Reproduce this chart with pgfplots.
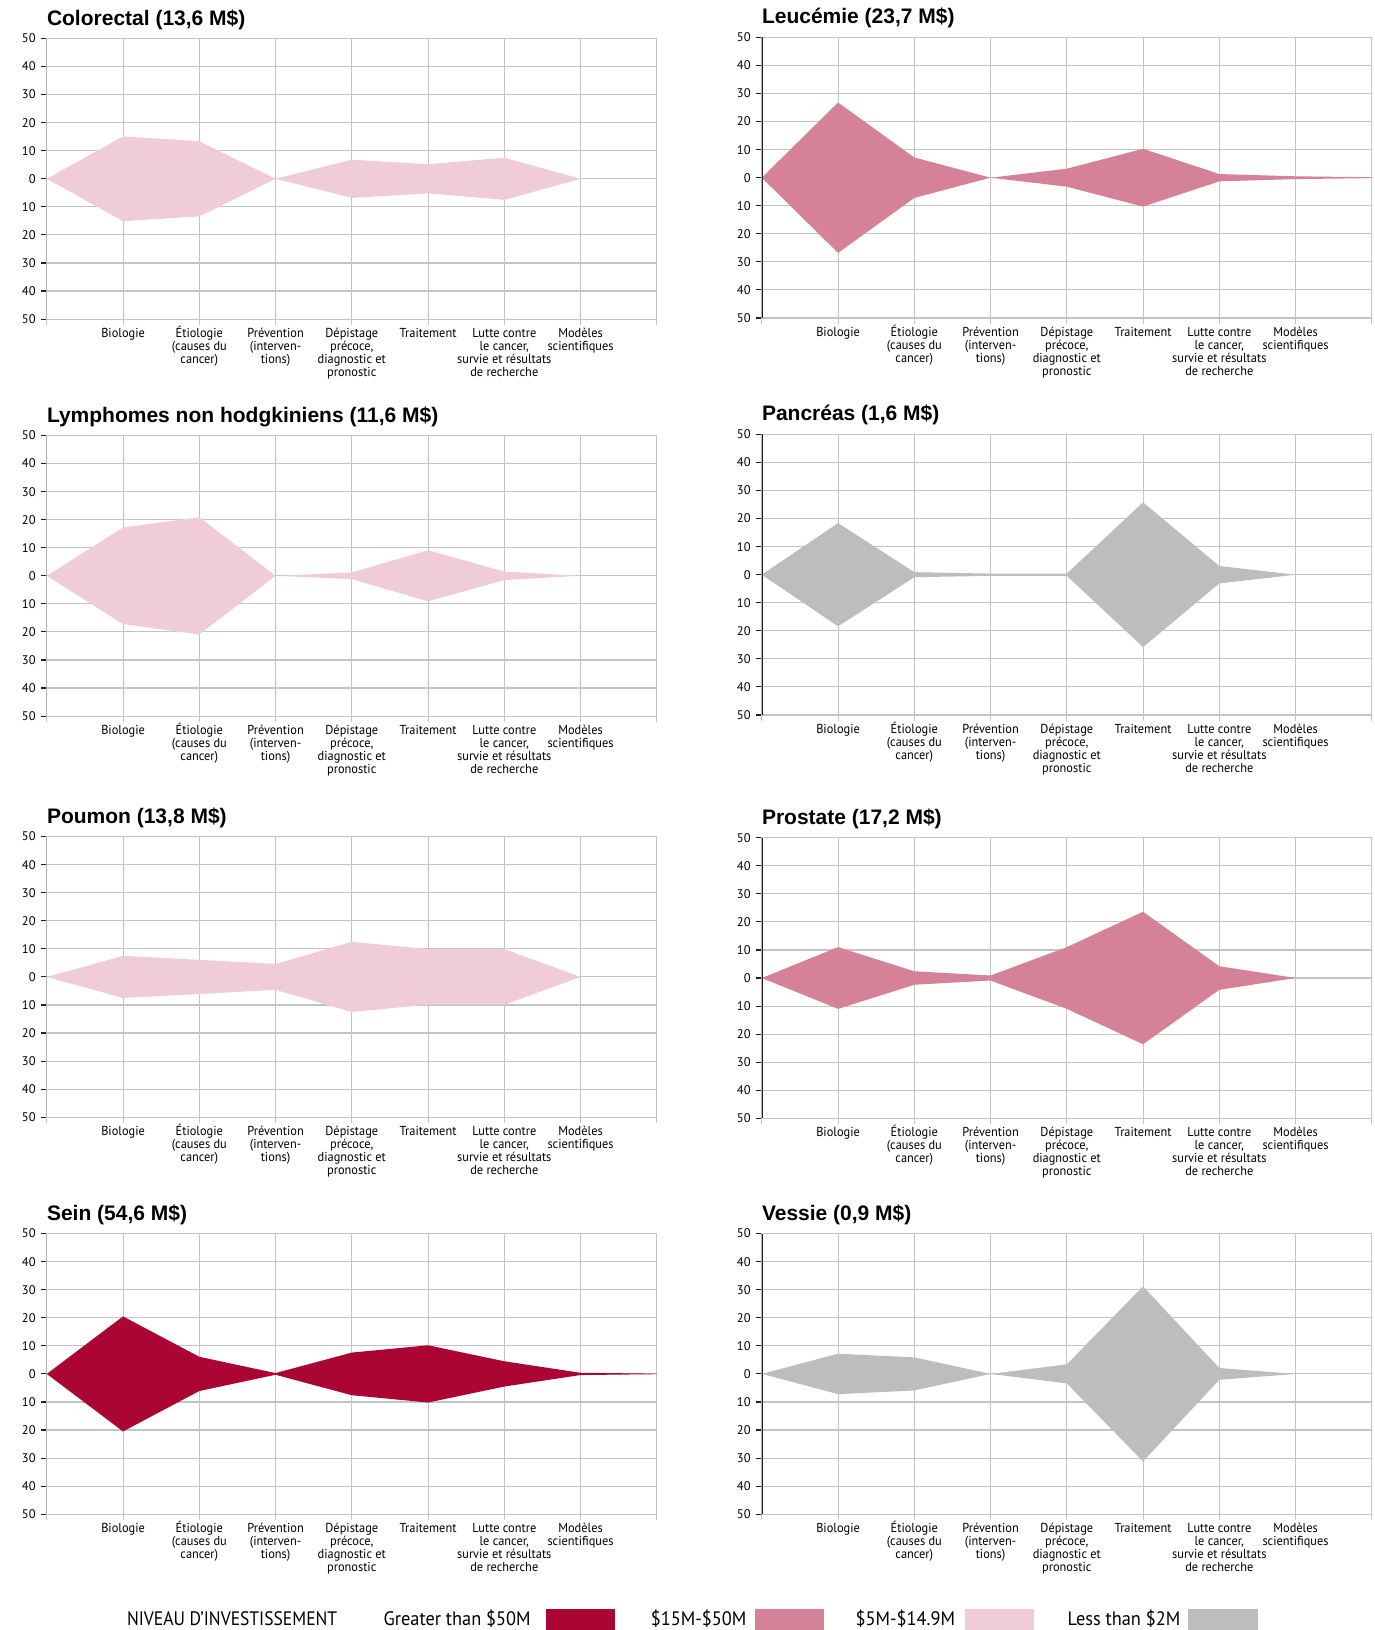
\documentclass[border=0pt]{standalone}
\usepackage{fontspec}
\usepackage{pgfplots}
\pgfplotsset{compat=1.18}
\setmainfont{PT Sans}
\newfontfamily\titlefam{Liberation Sans}
\newfontfamily\condfam[FakeStretch=0.9]{PT Sans}
\newfontfamily\legfam[FakeStretch=0.94]{PT Sans}
\newfontfamily\lblfam[FakeStretch=0.95]{PT Sans}
\definecolor{cdark}{HTML}{AB0533}
\definecolor{cmed}{HTML}{D58197}
\definecolor{clight}{HTML}{EFCCD6}
\definecolor{cgrey}{HTML}{BCBDBF}
\definecolor{gridgray}{HTML}{C3C4C6}
\definecolor{axisblack}{HTML}{231F20}
\newcommand{\lblfont}{\lblfam\fontsize{13}{12.9}\selectfont}
\newcommand{\numfont}{\fontsize{12.5}{14}\selectfont}
\newcommand{\titlefont}{\titlefam\bfseries\fontsize{21}{24}\selectfont}
\newcommand{\st}{\vphantom{É}}
\pgfplotsset{panel/.style={
  scale only axis, width=610pt, height=280.6pt,
  xmin=0, xmax=8, ymin=-50, ymax=50,
  xtick={0,...,8},
  xticklabels={,{\st Biologie},{\st Étiologie\\(causes du\\cancer)},{\st Prévention\\(interven-\\tions)},{\st Dépistage\\précoce,\\diagnostic et\\pronostic},{\st Traitement},{\st Lutte contre\\le cancer,\\survie et résultats\\de recherche},{\st Modèles\\scientifiques},},
  ytick={-50,-40,...,50},
  yticklabels={50,40,30,20,10,0,10,20,30,40,50},
  grid=major, grid style={gridgray, line width=1.1pt},
  axis line style={gridgray, line width=1.1pt},
  tick pos=left, tick align=outside, major tick length=6pt,
  x tick style={gridgray, line width=1.1pt},
  y tick style={axisblack, line width=1.1pt},
  xticklabel style={font=\lblfont, align=center, anchor=north, inner sep=0pt, yshift=-1pt},
  yticklabel style={font=\numfont, anchor=east, inner sep=0pt, xshift=-5pt},
}}
\newcommand{\panel}[5]{%
  \begin{axis}[panel, at={(#1pt,#2pt)}, anchor=north west]
    \addplot[fill=#4, draw=none] coordinates {#5};
    \draw[axisblack, line width=1.4pt] (rel axis cs:0,0) -- (rel axis cs:0,1);
    \node[font=\numfont, anchor=east, inner sep=0pt] at (rel axis cs:0,0.5) [xshift=-29pt] {\%};
  \end{axis}
  \node[font=\titlefont, anchor=base west, inner sep=0pt] at (#1pt,#2pt) [yshift=13.5pt] {#3};
}
\begin{document}
\begin{tikzpicture}
\useasboundingbox (0pt,0pt) rectangle (1375pt,-1630pt);
\panel{46.8}{-38.5}{Colorectal (13,6 M\$)}{clight}{(0,0)(1,15.1)(2,13.4)(3,0)(4,6.8)(5,5.2)(6,7.5)(7,0)(6,-7.5)(5,-5.2)(4,-6.8)(3,0)(2,-13.4)(1,-15.1)(0,0)}
\panel{761.8}{-37.4}{Leucémie (23,7 M\$)}{cmed}{(0,0)(1,26.8)(2,7.2)(3,0)(4,3.2)(5,10.3)(6,1.3)(7,0.5)(8,0.15)(8,-0.15)(7,-0.5)(6,-1.3)(5,-10.3)(4,-3.2)(3,0)(2,-7.2)(1,-26.8)(0,0)}
\panel{46.8}{-435.5}{Lymphomes non hodgkiniens (11,6 M\$)}{clight}{(0,0)(1,17.2)(2,20.9)(3,0)(4,1.2)(5,9.1)(6,1.5)(7,0)(6,-1.5)(5,-9.1)(4,-1.2)(3,0)(2,-20.9)(1,-17.2)(0,0)}
\panel{761.8}{-434.4}{Pancréas (1,6 M\$)}{cgrey}{(0,0)(1,18.4)(2,0.9)(3,0.4)(4,0.4)(5,25.8)(6,3.1)(7,0)(6,-3.1)(5,-25.8)(4,-0.4)(3,-0.4)(2,-0.9)(1,-18.4)(0,0)}
\panel{46.8}{-836.6}{Poumon (13,8 M\$)}{clight}{(0,0)(1,7.5)(2,6.1)(3,4.6)(4,12.5)(5,9.9)(6,9.9)(7,0)(6,-9.9)(5,-9.9)(4,-12.5)(3,-4.6)(2,-6.1)(1,-7.5)(0,0)}
\panel{761.8}{-837.7}{Prostate (17,2 M\$)}{cmed}{(0,0)(1,11.0)(2,2.4)(3,0.9)(4,11.0)(5,23.6)(6,4.2)(7,0)(6,-4.2)(5,-23.6)(4,-11.0)(3,-0.9)(2,-2.4)(1,-11.0)(0,0)}
\panel{46.8}{-1233.6}{Sein (54,6 M\$)}{cdark}{(0,0)(1,20.5)(2,6.1)(3,0.3)(4,7.6)(5,10.2)(6,4.5)(7,0.4)(8,0.1)(8,-0.1)(7,-0.4)(6,-4.5)(5,-10.2)(4,-7.6)(3,-0.3)(2,-6.1)(1,-20.5)(0,0)}
\panel{761.8}{-1233.6}{Vessie (0,9 M\$)}{cgrey}{(0,0)(1,7.2)(2,5.9)(3,0)(4,3.4)(5,31.2)(6,2.1)(7,0)(6,-2.1)(5,-31.2)(4,-3.4)(3,0)(2,-5.9)(1,-7.2)(0,0)}
% legend
\begin{scope}[every node/.style={inner sep=0pt, anchor=base west, font=\legfam\fontsize{19.5}{22}\selectfont}]
\node[font=\condfam\fontsize{19.5}{22}\selectfont] at (126.8pt,-1625pt) {NIVEAU D’INVESTISSEMENT};
\node at (383.5pt,-1625pt) {Greater than \$50M};
\fill[cdark] (545.6pt,-1608.8pt) rectangle (615.3pt,-1629.6pt);
\node at (650.6pt,-1625pt) {\$15M-\$50M};
\fill[cmed] (754.5pt,-1608.8pt) rectangle (824.2pt,-1629.6pt);
\node at (855.4pt,-1625pt) {\$5M-\$14.9M};
\fill[clight] (964.5pt,-1608.8pt) rectangle (1034.1pt,-1629.6pt);
\node at (1067.4pt,-1625pt) {Less than \$2M};
\fill[cgrey] (1187.9pt,-1608.8pt) rectangle (1257.5pt,-1629.6pt);
\end{scope}
\end{tikzpicture}
\end{document}
